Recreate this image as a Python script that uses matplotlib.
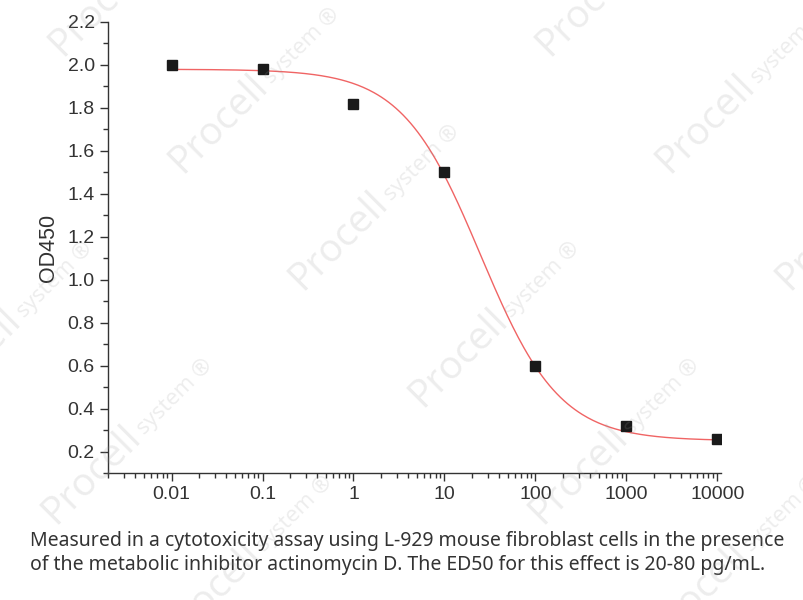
import numpy as np
import matplotlib.pyplot as plt

# data
conc = [0.01, 0.1, 1, 10, 100, 1000, 10000]
od450 = [2.00, 1.98, 1.82, 1.50, 0.60, 0.32, 0.26]
xtick_labels = ['0.01', '0.1', '1', '10', '100', '1000', '10000']

# 4-parameter logistic fit shown as the red line
fit_top = 1.98
fit_bottom = 0.25
fit_ec50 = 25.0
fit_hill = 1.0

caption = ("Measured in a cytotoxicity assay using L-929 mouse fibroblast cells in the presence\n"
           "of the metabolic inhibitor actinomycin D. The ED50 for this effect is 20-80 pg/mL.")

# watermark anchors (pixel position of the "P", from the top-left corner)
wm_spots = [(62, 57), (182, 174), (302, 291), (422, 408), (542, 525),
            (549, 57), (669, 174), (789, 291), (55, 525), (-65, 408), (175, 642), (662, 642)]

plt.rcParams['font.family'] = ['Liberation Sans', 'DejaVu Sans']

W, H = 804, 600
fig = plt.figure(figsize=(W / 100, H / 100), dpi=100)
ax = fig.add_axes([108 / W, 1 - 473 / H, (721 - 108) / W, (473 - 22) / H])

xs = np.logspace(np.log10(conc[0]), np.log10(conc[-1]), 300)
ys = fit_bottom + (fit_top - fit_bottom) / (1 + (xs / fit_ec50) ** fit_hill)
ax.plot(xs, ys, color='#f06464', lw=1.0, zorder=2)
ax.plot(conc, od450, 's', color='#1a1a1a', ms=7, zorder=3)

ax.set_xscale('log')
ax.set_xlim(0.002, 11000)
ax.set_ylim(0.1, 2.2)
ax.set_xticks(conc)
ax.set_xticklabels(xtick_labels)
yt = np.arange(0.2, 2.21, 0.2)
ax.set_yticks(yt)
ax.set_yticklabels(['%.1f' % v for v in yt])
ax.set_yticks(np.arange(0.1, 2.2, 0.2), minor=True)

ax.spines['top'].set_visible(False)
ax.spines['right'].set_visible(False)
for s in ['left', 'bottom']:
    ax.spines[s].set_color('#333333')
    ax.spines[s].set_linewidth(1.0)
ax.tick_params(which='major', length=6, width=1, color='#333333',
               labelsize=14, labelcolor='#333333')
ax.tick_params(which='minor', length=3.5, width=1, color='#333333')
ax.set_ylabel('OD450', fontsize=15.5, color='#333333', labelpad=6)

fig.text(30 / W, 1 - 553 / H, caption, fontsize=14, color='#333333',
         family=['Noto Sans', 'DejaVu Sans'], ha='left', va='center', linespacing=1.3)

# faint "Procell system" watermark
ang = np.deg2rad(45)
for px, py in wm_spots:
    fig.text(px / W, 1 - py / H, "Procell", fontsize=28, color='#999999', alpha=0.18,
             family=['Open Sans', 'DejaVu Sans'], rotation=45, rotation_mode='anchor',
             ha='left', va='baseline', zorder=5)
    sx, sy = px + 126 * np.cos(ang), py - 126 * np.sin(ang)
    fig.text(sx / W, 1 - sy / H, "system ®", fontsize=16, color='#999999', alpha=0.18,
             family=['Open Sans', 'DejaVu Sans'], rotation=45, rotation_mode='anchor',
             ha='left', va='baseline', zorder=5)

fig.savefig('out.png', dpi=100)
